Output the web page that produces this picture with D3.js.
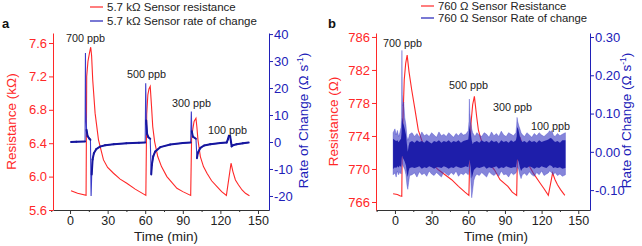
<!DOCTYPE html>
<html>
<head>
<meta charset="utf-8">
<script src="https://cdn.jsdelivr.net/npm/d3@7"></script>
<style>
  body { margin: 0; background: #fff; }
  svg { display: block; font-family: Arial, "Liberation Sans", sans-serif; }
</style>
</head>
<body>
<div id="chart"></div>
<script>
// ---- data (time in min) ----
var timeTicks = [0, 30, 60, 90, 120, 150];
var doses = ['700 ppb', '500 ppb', '300 ppb', '100 ppb'];

// panel a : 5.7 kOhm sensor
var aResTicks = [5.6, 6.0, 6.4, 6.8, 7.2, 7.6];
var aRateTicks = [-20, -10, 0, 10, 20, 30, 40];
var aResistance = [
  [0.8, 5.83], [6, 5.80], [12.8, 5.775], [13.3, 7.2], [14.3, 7.38], [15.5, 7.48], [16.5, 7.55],
  [17.2, 7.45], [18.1, 7.16], [20, 6.76], [22.7, 6.44], [26.7, 6.2], [30, 6.11], [34.7, 6.04],
  [40, 5.97], [45.3, 5.92], [52, 5.85], [60.5, 5.775], [61.2, 6.75], [62.1, 6.98], [63, 7.05],
  [64, 7.08], [65, 6.85], [66, 6.6], [67.5, 6.42], [70, 6.24], [73, 6.12], [77.3, 6.0],
  [85.3, 5.86], [90, 5.82], [96.3, 5.775], [97, 6.45], [97.9, 6.56], [99, 6.66], [100.5, 6.70],
  [101.2, 6.6], [102.1, 6.44], [104, 6.24], [106.5, 6.12], [109.3, 6.04], [113, 5.95],
  [117.3, 5.88], [121, 5.82], [124.8, 5.775], [128.5, 6.16], [130, 6.06], [132, 5.96],
  [134.5, 5.9], [137.3, 5.84], [140, 5.8], [143.2, 5.77]
];
var aRate = [
  [0.8, 0], [5, 0.1], [12, 0.2], [12.3, 33], [12.6, 12], [13.2, 4.5], [14, 2.2], [15.5, 1.2],
  [16.3, 0.8], [16.8, -20], [17.3, -12], [18, -6.5], [19, -4.2], [21, -2.6], [24, -1.7],
  [28, -1.2], [35, -0.8], [45, -0.5], [55, -0.3], [60, -0.2], [60.4, 21.8], [60.8, 8],
  [61.5, 3], [62.5, 1.8], [64, 1.2], [64.8, -12], [65.3, -8.5], [66.4, -5.3], [68, -3.5],
  [72, -1.9], [80, -0.9], [90, -0.4], [96.3, -0.2], [96.8, 11.3], [97.2, 4], [98, 2],
  [100.5, 1.2], [101.3, -6], [102, -4], [104, -2.2], [107, -1.3], [112, -0.8], [120, -0.4],
  [125, -0.2], [126, 1], [126.8, 2.3], [127.8, 2.1], [128.5, 0], [129, -1.6], [130, -1.2],
  [133, -0.8], [138, -0.5], [142.6, -0.2]
];

// panel b : 760 Ohm sensor
var bResTicks = [766, 770, 774, 778, 782, 786];
var bRateTicks = [-0.10, 0.00, 0.10, 0.20, 0.30];
var bResistance = [
  [-1.5, 767.0], [2, 766.9], [4, 766.75], [5.6, 766.7], [6, 773.5], [7.6, 780.8], [8.8, 782.8],
  [10, 783.8], [11.5, 781.8], [13.7, 779.6], [16.4, 777.2], [19.1, 774.7], [21.9, 773.5],
  [26, 771.9], [30, 770.7], [35.5, 769.9], [41, 769.3], [46.4, 768.7], [52, 767.9],
  [57.3, 767.2], [60.5, 766.8], [61, 770], [62.2, 775.5], [63.6, 777.8], [65, 778.8],
  [66.9, 776.3], [68.3, 774.7], [70, 773.8], [72.5, 772.6], [75, 771.5], [78, 770.5],
  [81.4, 769.9], [86, 768.7], [92.4, 767.9], [96, 767.2], [99.6, 766.8], [100.2, 771.5],
  [101.2, 773.2], [102.3, 773.9], [104, 773], [105.5, 772.2], [107.8, 771.1], [110.5, 770.2],
  [113.2, 769.5], [118.7, 768.3], [122, 767.6], [125.5, 766.8], [129, 769.5], [131, 768.7],
  [133, 768.1], [135.5, 767.5], [139, 766.8]
];
// noisy rate signal: [time, outer low, dense low, dense high, outer high]
var bRateBand = [
  [-1.5, -0.060, -0.045, 0.034, 0.050], [0, -0.055, -0.040, 0.030, 0.060],
  [1, -0.066, -0.042, 0.028, 0.044], [2, -0.050, -0.038, 0.030, 0.056],
  [3, -0.060, -0.041, 0.025, 0.040], [4, -0.052, -0.036, 0.030, 0.050],
  [5, -0.058, -0.040, 0.034, 0.064], [5.4, -0.040, -0.022, 0.050, 0.090],
  [5.7, -0.030, -0.012, 0.080, 0.265], [6.0, -0.030, -0.010, 0.090, 0.150],
  [6.5, -0.036, -0.016, 0.076, 0.120], [7.2, -0.040, -0.020, 0.070, 0.130],
  [8.0, -0.046, -0.026, 0.060, 0.090], [9.0, -0.060, -0.036, 0.045, 0.070],
  [9.8, -0.086, -0.056, 0.020, 0.040], [10.5, -0.098, -0.066, 0.000, 0.030],
  [11.2, -0.080, -0.050, 0.015, 0.036], [12, -0.062, -0.042, 0.025, 0.046],
  [14, -0.060, -0.040, 0.028, 0.050], [16, -0.055, -0.042, 0.024, 0.040],
  [18, -0.066, -0.040, 0.030, 0.048], [20, -0.052, -0.038, 0.026, 0.038],
  [22, -0.060, -0.044, 0.028, 0.052], [24, -0.056, -0.040, 0.024, 0.042],
  [26, -0.064, -0.042, 0.030, 0.046], [28, -0.050, -0.038, 0.026, 0.040],
  [30, -0.058, -0.040, 0.022, 0.050], [32, -0.062, -0.044, 0.028, 0.044],
  [34, -0.054, -0.040, 0.026, 0.038], [36, -0.060, -0.040, 0.030, 0.052],
  [38, -0.066, -0.042, 0.024, 0.042], [40, -0.052, -0.038, 0.028, 0.046],
  [42, -0.058, -0.040, 0.026, 0.040], [44, -0.062, -0.044, 0.030, 0.050],
  [46, -0.054, -0.040, 0.024, 0.044], [48, -0.060, -0.042, 0.028, 0.038],
  [50, -0.050, -0.038, 0.026, 0.048], [52, -0.064, -0.040, 0.030, 0.042],
  [54, -0.056, -0.042, 0.024, 0.050], [56, -0.060, -0.040, 0.028, 0.044],
  [58, -0.054, -0.038, 0.030, 0.046], [60, -0.060, -0.040, 0.032, 0.055],
  [60.6, -0.050, -0.030, 0.050, 0.080], [60.9, -0.040, -0.020, 0.070, 0.138],
  [61.3, -0.046, -0.026, 0.060, 0.100], [62, -0.070, -0.040, 0.050, 0.080],
  [62.8, -0.120, -0.070, 0.030, 0.060], [63.6, -0.100, -0.060, 0.020, 0.050],
  [64.5, -0.075, -0.048, 0.025, 0.045], [65.5, -0.065, -0.044, 0.026, 0.040],
  [67, -0.058, -0.040, 0.028, 0.050], [69, -0.062, -0.042, 0.024, 0.044],
  [71, -0.054, -0.040, 0.030, 0.040], [73, -0.060, -0.038, 0.026, 0.050],
  [75, -0.066, -0.044, 0.028, 0.046], [77, -0.052, -0.040, 0.024, 0.038],
  [79, -0.058, -0.042, 0.030, 0.052], [81, -0.062, -0.040, 0.026, 0.042],
  [83, -0.056, -0.038, 0.028, 0.048], [85, -0.064, -0.044, 0.022, 0.040],
  [87, -0.050, -0.040, 0.030, 0.054], [89, -0.060, -0.042, 0.026, 0.044],
  [91, -0.058, -0.038, 0.028, 0.040], [93, -0.066, -0.040, 0.024, 0.050],
  [95, -0.054, -0.042, 0.030, 0.046], [97, -0.060, -0.040, 0.026, 0.042],
  [99, -0.055, -0.040, 0.030, 0.050], [99.6, -0.050, -0.030, 0.040, 0.070],
  [99.9, -0.040, -0.020, 0.060, 0.090], [100.4, -0.040, -0.020, 0.065, 0.080],
  [101.2, -0.046, -0.026, 0.055, 0.070], [102.2, -0.060, -0.040, 0.040, 0.060],
  [103.2, -0.070, -0.050, 0.030, 0.050], [104.2, -0.060, -0.044, 0.026, 0.045],
  [106, -0.056, -0.040, 0.028, 0.040], [108, -0.062, -0.042, 0.024, 0.050],
  [110, -0.052, -0.038, 0.030, 0.044], [112, -0.060, -0.040, 0.026, 0.038],
  [114, -0.064, -0.044, 0.028, 0.048], [116, -0.054, -0.040, 0.024, 0.042],
  [118, -0.060, -0.042, 0.030, 0.050], [120, -0.050, -0.038, 0.026, 0.044],
  [122, -0.062, -0.040, 0.028, 0.040], [124, -0.058, -0.042, 0.030, 0.046],
  [125.5, -0.055, -0.038, 0.032, 0.050], [126.5, -0.050, -0.035, 0.035, 0.055],
  [127.5, -0.052, -0.036, 0.036, 0.052], [128.5, -0.056, -0.038, 0.034, 0.056],
  [129.5, -0.060, -0.042, 0.030, 0.044], [131, -0.054, -0.040, 0.026, 0.040],
  [133, -0.062, -0.042, 0.028, 0.048], [135, -0.058, -0.040, 0.024, 0.042],
  [137, -0.064, -0.044, 0.030, 0.046], [139.5, -0.060, -0.042, 0.030, 0.050]
];

// ---- drawing ----
var width = 642, height = 246;
var red = '#ff2828', blue = '#2020b8', navy = '#16169e';

var svg = d3.select('#chart').append('svg')
  .attr('width', width)
  .attr('height', height);

var panels = [
  {
    letter: 'a', lx: 2, left: 53, right: 269, top: 33, bottom: 210,
    xDomain: [-13.6, 158.8], resDomain: [5.6, 7.72], rateDomain: [-25.2, 40.4],
    resTicks: aResTicks, rateTicks: aRateTicks,
    resFmt: function (d) { return d.toFixed(1); }, rateFmt: function (d) { return String(d); },
    res: aResistance, rate: aRate,
    resTitle: 'Resistance (kΩ)', resTitleX: 16, rateTitleX: 308, timeTitleX: 166,
    legend: ['5.7 kΩ Sensor resistance', '5.7 kΩ Sensor rate of change'],
    legX: 90, legY: [7, 21], legFont: 11.5,
    notes: [[66, 42], [127, 78], [172, 107], [208, 134]]
  },
  {
    letter: 'b', lx: 328, left: 376, right: 590, top: 33, bottom: 210,
    xDomain: [-15.5, 159.6], resDomain: [765.03, 786.48], rateDomain: [-0.152, 0.3105],
    resTicks: bResTicks, rateTicks: bRateTicks,
    resFmt: function (d) { return String(d); }, rateFmt: function (d) { return d.toFixed(2); },
    res: bResistance, band: bRateBand,
    resTitle: 'Resistance (Ω)', resTitleX: 338, rateTitleX: 631, timeTitleX: 496,
    legend: ['760 Ω Sensor Resistance', '760 Ω Sensor Rate of change'],
    legX: 421, legY: [6, 18], legFont: 11.3,
    notes: [[383, 47], [449, 89], [493, 111], [531, 130]]
  }
];

panels.forEach(drawPanel);

function drawPanel(p) {
  var x = d3.scaleLinear().domain(p.xDomain).range([p.left, p.right]);
  var yRes = d3.scaleLinear().domain(p.resDomain).range([p.bottom, p.top]);
  var yRate = d3.scaleLinear().domain(p.rateDomain).range([p.bottom, p.top]);
  var g = svg.append('g');

  // resistance curve
  var resLine = d3.line()
    .x(function (d) { return x(d[0]); })
    .y(function (d) { return yRes(d[1]); });
  g.append('path')
    .datum(p.res)
    .attr('d', resLine)
    .attr('fill', 'none')
    .attr('stroke', red)
    .attr('stroke-width', 1.1);

  // rate of change: thin for the fast spikes, heavier where the signal is slow
  if (p.rate) {
    var rateLine = d3.line()
      .x(function (d) { return x(d[0]); })
      .y(function (d) { return yRate(d[1]); });
    g.append('path')
      .datum(p.rate)
      .attr('d', rateLine)
      .attr('fill', 'none')
      .attr('stroke', '#3a3ac8')
      .attr('stroke-width', 1.1);
    var slow = d3.pairs(p.rate).filter(function (s) {
      return Math.abs(s[1][1] - s[0][1]) < 6;
    });
    g.selectAll('path.slow')
      .data(slow)
      .enter()
      .append('path')
      .attr('class', 'slow')
      .attr('d', rateLine)
      .attr('fill', 'none')
      .attr('stroke', navy)
      .attr('stroke-width', 2)
      .attr('stroke-linecap', 'round');
  }
  if (p.band) {
    var outer = d3.area()
      .x(function (d) { return x(d[0]); })
      .y0(function (d) { return yRate(d[1]); })
      .y1(function (d) { return yRate(d[4]); });
    var inner = d3.area()
      .x(function (d) { return x(d[0]); })
      .y0(function (d) { return yRate(d[2]); })
      .y1(function (d) { return yRate(d[3]); });
    g.append('path').datum(p.band).attr('d', outer)
      .attr('fill', '#3434c2').attr('fill-opacity', 0.6)
      .attr('stroke', '#3a3ac8').attr('stroke-width', 0.6).attr('stroke-opacity', 0.6);
    g.append('path').datum(p.band).attr('d', inner)
      .attr('fill', '#1e1eaa');
  }

  // bottom axis
  var xAxis = g.append('g')
    .attr('transform', 'translate(0,' + p.bottom + ')')
    .call(d3.axisBottom(x).tickValues(timeTicks).tickSize(4).tickSizeOuter(0).tickPadding(2));
  xAxis.select('.domain').attr('stroke', '#333');
  xAxis.selectAll('line').attr('stroke', '#333');
  xAxis.selectAll('text').attr('font-size', 12.5).attr('fill', '#222').attr('font-family', null);
  var minor = g.append('g')
    .attr('transform', 'translate(0,' + p.bottom + ')')
    .call(d3.axisBottom(x).tickValues([-15, 15, 45, 75, 105, 135]).tickSize(2).tickSizeOuter(0).tickFormat(''));
  minor.select('.domain').remove();
  minor.selectAll('line').attr('stroke', '#333');

  // left axis (resistance)
  var yl = g.append('g')
    .attr('transform', 'translate(' + p.left + ',0)')
    .call(d3.axisLeft(yRes).tickValues(p.resTicks).tickFormat(p.resFmt)
      .tickSize(4).tickSizeOuter(0).tickPadding(2));
  yl.selectAll('.domain, line').attr('stroke', red);
  yl.selectAll('text').attr('font-size', 13).attr('fill', red).attr('font-family', null);

  // right axis (rate)
  var yr = g.append('g')
    .attr('transform', 'translate(' + p.right + ',0)')
    .call(d3.axisRight(yRate).tickValues(p.rateTicks).tickFormat(p.rateFmt)
      .tickSize(4).tickSizeOuter(0).tickPadding(1));
  yr.selectAll('.domain, line').attr('stroke', blue);
  yr.selectAll('text').attr('font-size', 13).attr('fill', blue).attr('font-family', null);

  // axis titles
  var midY = (p.top + p.bottom) / 2;
  g.append('text')
    .attr('transform', 'translate(' + p.resTitleX + ',' + midY + ') rotate(-90)')
    .attr('text-anchor', 'middle')
    .attr('font-size', 13.5)
    .attr('fill', red)
    .text(p.resTitle);
  var rt = g.append('text')
    .attr('transform', 'translate(' + p.rateTitleX + ',' + (midY - 1) + ') rotate(-90)')
    .attr('text-anchor', 'middle')
    .attr('font-size', 13.5)
    .attr('fill', blue);
  rt.append('tspan').text('Rate of Change (Ω s');
  rt.append('tspan').attr('font-size', 8.5).attr('dy', -5).text('-1');
  rt.append('tspan').attr('dy', 5).text(')');
  g.append('text')
    .attr('x', p.timeTitleX)
    .attr('y', 241)
    .attr('text-anchor', 'middle')
    .attr('font-size', 13.5)
    .attr('fill', '#222')
    .text('Time (min)');

  // dose annotations
  g.selectAll('text.note')
    .data(doses)
    .enter()
    .append('text')
    .attr('class', 'note')
    .attr('x', function (d, i) { return p.notes[i][0]; })
    .attr('y', function (d, i) { return p.notes[i][1]; })
    .attr('font-size', 10.8)
    .attr('fill', '#222')
    .text(function (d) { return d; });

  // legend
  var colors = [red, blue];
  p.legend.forEach(function (label, i) {
    g.append('line')
      .attr('x1', p.legX).attr('x2', p.legX + 13)
      .attr('y1', p.legY[i]).attr('y2', p.legY[i])
      .attr('stroke', colors[i]).attr('stroke-width', 1.2);
    g.append('text')
      .attr('x', p.legX + 17)
      .attr('y', p.legY[i] + 4)
      .attr('font-size', p.legFont)
      .attr('fill', '#222')
      .text(label);
  });

  // panel letter
  g.append('text')
    .attr('x', p.lx)
    .attr('y', 28)
    .attr('font-size', 13)
    .attr('font-weight', 'bold')
    .attr('fill', '#111')
    .text(p.letter);
}
</script>
</body>
</html>
